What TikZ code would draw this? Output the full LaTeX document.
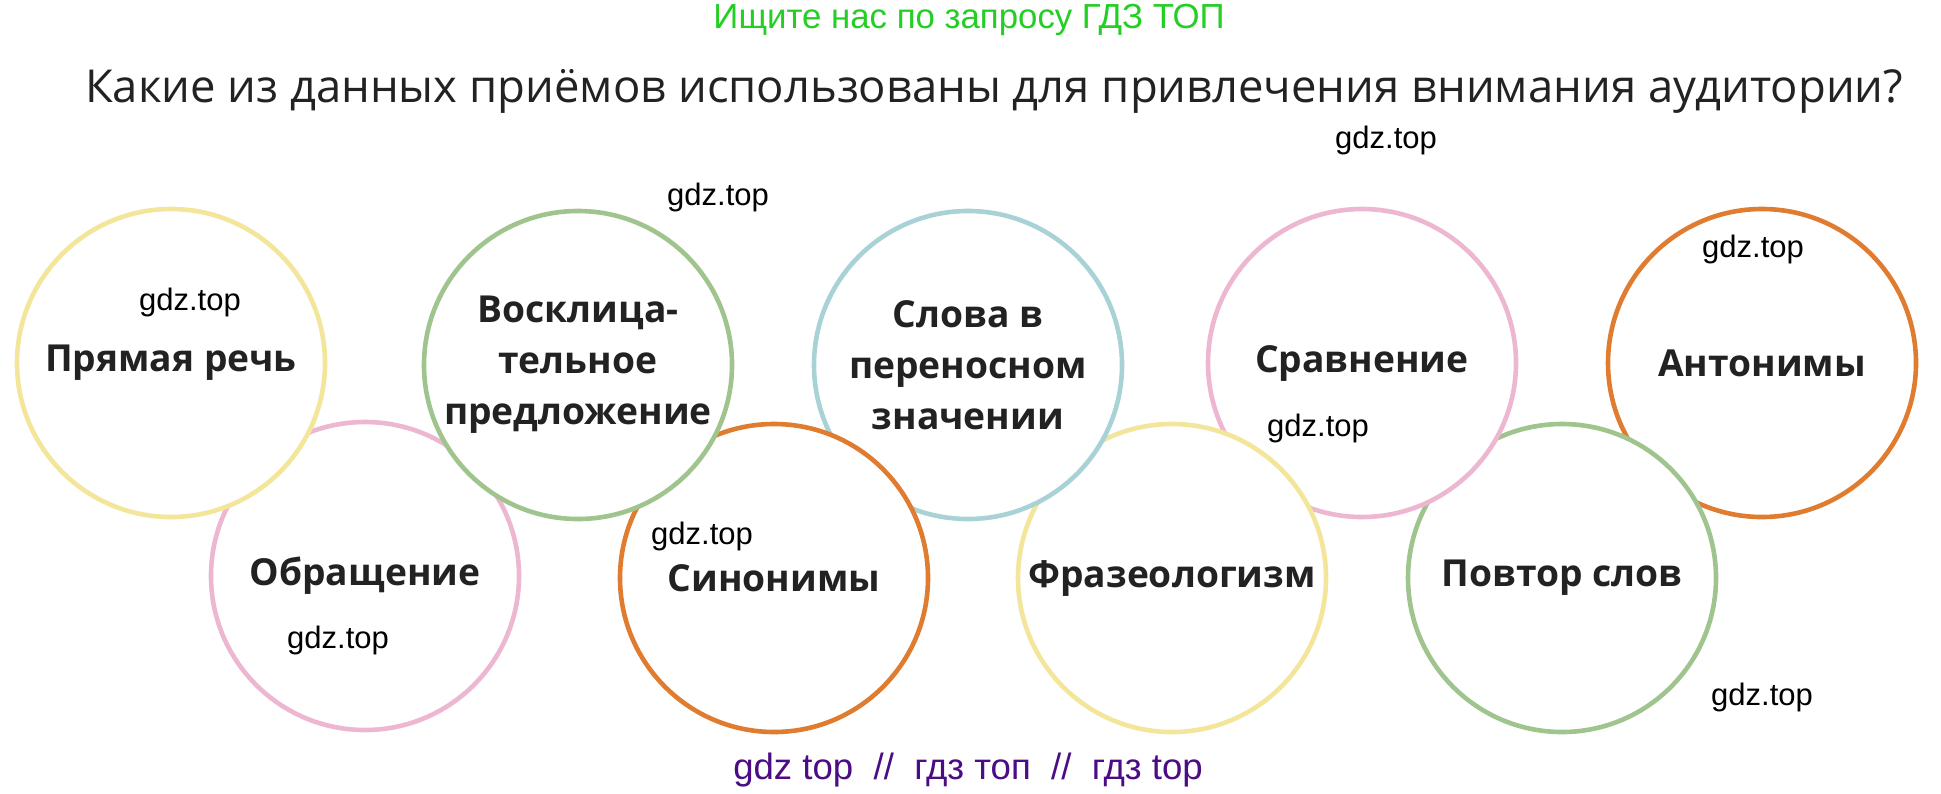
\documentclass[tikz,border=0pt]{standalone}
\usepackage{fontspec}
\setmainfont{Open Sans}
\newfontfamily\wmfont{Liberation Sans}
\usepackage{tikz}

\definecolor{cYellow}{HTML}{F3E59A}
\definecolor{cPink}{HTML}{EDB6D1}
\definecolor{cGreen}{HTML}{9FC48E}
\definecolor{cBlue}{HTML}{A9D2D6}
\definecolor{cOrange}{HTML}{E07C2F}
\definecolor{askgreen}{HTML}{24CF24}
\definecolor{footviolet}{HTML}{4B0C85}
\definecolor{labtext}{HTML}{222222}

\begin{document}
\begin{tikzpicture}[x=0.5pt, y=-0.5pt,
    bubble/.style={circle, minimum size=154pt, inner sep=0pt, line width=2.3pt, fill=white,
        align=center, text=labtext, font=\fontsize{18.6pt}{25.5pt}\selectfont\bfseries},
    wmark/.style={anchor=base, font=\wmfont\fontsize{15.5pt}{18pt}\selectfont}]
    \useasboundingbox[fill=white] (0,0) rectangle (1941,793);

    \node[anchor=base, text=askgreen, font=\wmfont\fontsize{17.4pt}{20pt}\selectfont] (ask) at (969,28) {Ищите нас по запросу ГДЗ ТОП};
    \node[anchor=base, text=labtext, font=\fontsize{22.7pt}{26pt}\selectfont] (quest) at (994,102) {Какие из данных приёмов использованы для привлечения внимания аудитории?};

    % circles, back to front
    \node[bubble, draw=cPink] (obr) at (365,576) {\raisebox{-2pt}{Обращение}};
    \node[bubble, draw=cOrange] (anton) at (1762,363) {\raisebox{-2pt}{Антонимы}};
    \node[bubble, draw=cGreen] (povtor) at (1562,578) {\raisebox{-2pt}{Повтор слов}};
    \node[bubble, draw=cPink] (sravn) at (1362,363) {\raisebox{-2pt}{Сравнение}};
    \node[bubble, draw=cYellow] (fraz) at (1172,578) {\raisebox{-2pt}{Фразеологизм}};
    \node[bubble, draw=cBlue] (slova) at (968,365) {Слова в\\переносном\\значении};
    \node[bubble, draw=cOrange] (sinon) at (774,578) {\raisebox{-2pt}{Синонимы}};
    \node[bubble, draw=cGreen] (voskl) at (578,365) {Восклица-\\тельное\\предложение};
    \node[bubble, draw=cYellow] (pryam) at (171,363) {\raisebox{-2pt}{Прямая речь}};

    % watermarks
    \foreach \px/\py [count=\i] in {1386/148, 718/205, 190/310, 1753/257, 1318/436, 702/544, 338/648, 1762/705}
        \node[wmark] (wm\i) at (\px,\py) {gdz.top};

    \node[anchor=base, text=footviolet, font=\wmfont\fontsize{18.3pt}{20pt}\selectfont] (foot) at (968,779) {gdz top~~//~~гдз топ~~//~~гдз top};
\end{tikzpicture}
\end{document}
